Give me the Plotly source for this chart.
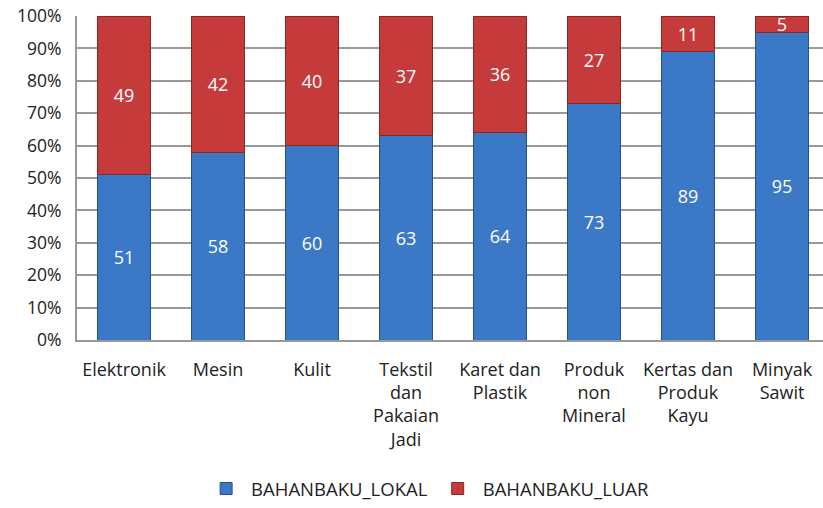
import plotly.graph_objects as go

categories = ["Elektronik", "Mesin", "Kulit", "Tekstil<br>dan<br>Pakaian<br>Jadi",
              "Karet dan<br>Plastik", "Produk<br>non<br>Mineral",
              "Kertas dan<br>Produk<br>Kayu", "Minyak<br>Sawit"]
lokal = [51, 58, 60, 63, 64, 73, 89, 95]
luar = [49, 42, 40, 37, 36, 27, 11, 5]
tick_vals = [0, 10, 20, 30, 40, 50, 60, 70, 80, 90, 100]
tick_text = [f"{v}%" for v in tick_vals]

FONT = "'Open Sans', sans-serif"

fig = go.Figure()
fig.add_trace(go.Bar(
    x=categories, y=lokal, name="BAHANBAKU_LOKAL",
    marker=dict(color="#3B78C6", line=dict(color="#27508A", width=1)),
    text=lokal, textposition="inside", insidetextanchor="middle", textangle=0,
    textfont=dict(color="white", size=18, family=FONT),
))
fig.add_trace(go.Bar(
    x=categories, y=luar, name="BAHANBAKU_LUAR",
    marker=dict(color="#C53B3B", line=dict(color="#8A2626", width=1)),
    text=luar, textposition="inside", insidetextanchor="middle", textangle=0,
    textfont=dict(color="white", size=18, family=FONT), cliponaxis=False,
))

fig.update_layout(
    barmode="stack", bargap=0.43,
    width=823, height=508,
    margin=dict(l=77, r=0, t=16, b=165),
    paper_bgcolor="white", plot_bgcolor="white",
    font=dict(family=FONT, size=17, color="#222"),
    uniformtext=dict(mode="show", minsize=10),
    legend=dict(orientation="h", x=0.47, xanchor="center", y=-0.46, yanchor="middle",
                font=dict(size=18.5, family=FONT), itemwidth=40, traceorder="normal",
                tracegroupgap=0),
    showlegend=True,
)
fig.update_xaxes(
    range=[-0.5, 7.436], showline=True, linecolor="#999", linewidth=2,
    ticks="", tickfont=dict(size=18, family=FONT), ticklabelstandoff=12,
)
fig.update_yaxes(
    range=[0, 100], tickvals=tick_vals, ticktext=tick_text,
    showgrid=True, gridcolor="#999", gridwidth=1.5,
    showline=True, linecolor="#999", linewidth=2,
    zeroline=False, ticks="", tickfont=dict(size=17.5, family=FONT), ticklabelstandoff=10,
)

fig.write_html("out.html")
